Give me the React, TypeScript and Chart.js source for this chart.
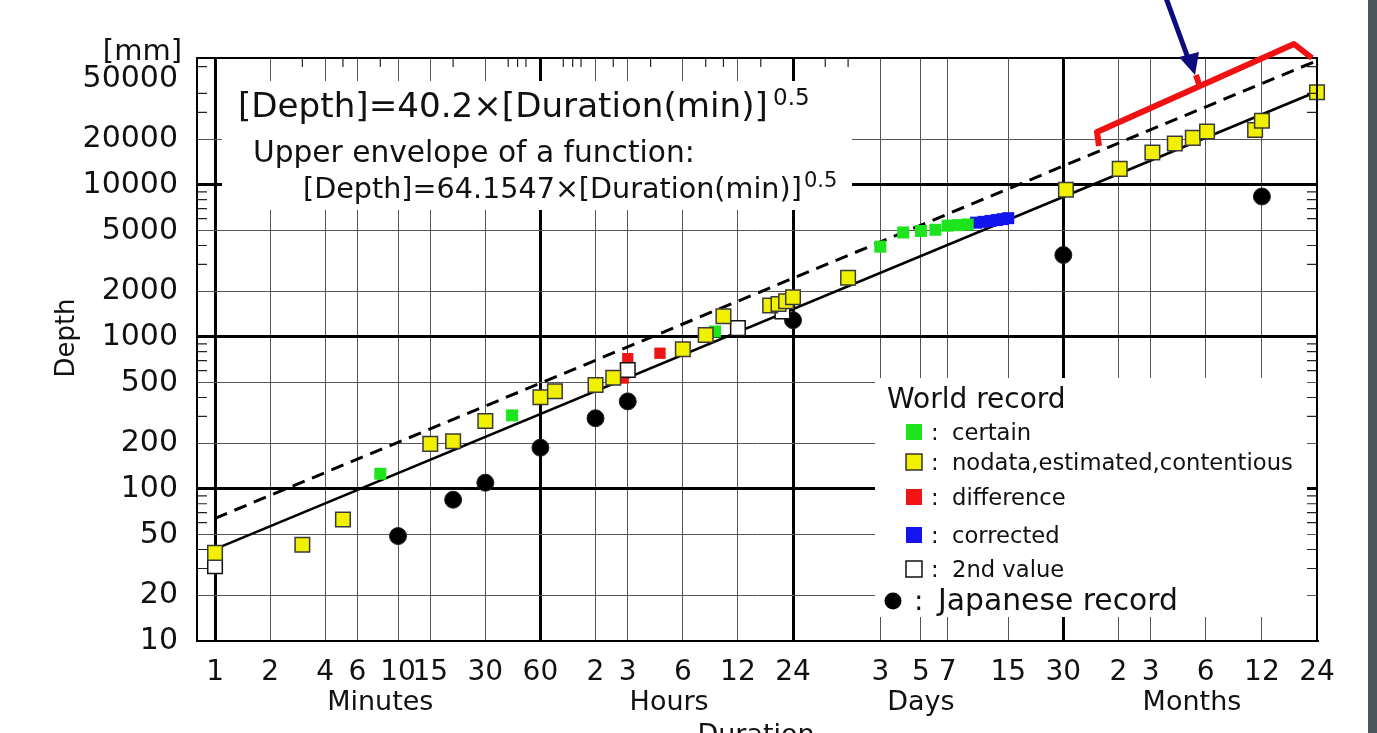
import React, { useEffect, useRef } from "react";
import { Chart, registerables } from "chart.js";

Chart.register(...registerables);

const FONT = "'DejaVu Sans', 'Liberation Sans', sans-serif";

// ---- axes (duration in minutes, depth in mm) ----
const xMin = 0.797;
const xMax = 1051200;
const yMin = 10;
const yMax = 68460;

const xTickValues = [1, 2, 4, 6, 10, 15, 30, 60, 120, 180, 360, 720, 1440, 4320, 7200, 10080, 21600, 43200, 86400, 129600, 259200, 525600, 1051200];
const xTickLabels = ["1", "2", "4", "6", "10", "15", "30", "60", "2", "3", "6", "12", "24", "3", "5", "7", "15", "30", "2", "3", "6", "12", "24"];
const xThickLines = [1, 60, 1440, 43200];
const xMinorTicks = [3, 5, 8, 20, 40, 45, 50, 80, 90, 100, 150, 240, 480, 600, 960, 2160, 2880];
const xUnitLabels = ["Minutes", "Hours", "Days", "Months"];
const xUnitAt = [8, 303, 7200, 218000];

const yTickValues = [10, 20, 50, 100, 200, 500, 1000, 2000, 5000, 10000, 20000, 50000];
const yTickLabels = ["10", "20", "50", "100", "200", "500", "1000", "2000", "5000", "10000", "20000", "50000"];
const yThickLines = [100, 1000, 10000];
const yNoGrid = [50000];

// ---- series ----
const yellowDur = [1, 3, 5, 15, 20, 30, 60, 72, 120, 150, 360, 480, 600, 1080, 1200, 1320, 1440, 2880, 44640, 87840, 132480, 175680, 220320, 263520, 482400, 525600, 1051200];
const yellowDepth = [38, 43, 63, 198, 206, 280, 401, 440, 483, 540, 830, 1030, 1370, 1610, 1650, 1720, 1825, 2450, 9300, 12767, 16369, 18738, 20412, 22454, 22990, 26461, 40768];

const certainDur = [8, 42, 540, 4320, 5760, 7200, 8640, 10080, 11520, 12960];
const certainDepth = [126, 305, 1087, 3930, 4869, 4979, 5075, 5400, 5450, 5500];

const diffDur = [170, 180, 270];
const diffDepth = [537, 720, 782];

const correctedDur = [14400, 15840, 17280, 18720, 20160, 21600];
const correctedDepth = [5650, 5720, 5800, 5880, 5960, 6050];

const secondDur = [1, 180, 720, 1260];
const secondDepth = [31, 607, 1144, 1470];

const japanDur = [10, 20, 30, 60, 120, 180, 1440, 43200, 525600];
const japanDepth = [49, 85, 110, 187, 292, 377, 1290, 3460, 8400];

// fitted lines: [Depth]=40.2x[Duration]^0.5 and envelope 64.1547x[Duration]^0.5
const lineDur = [1, 1051200];
const fitDepth = [40.2, 41216];
const envDepth = [64.15, 65776];

const YELLOW = "#f0f000";
const GREEN = "#1ee41e";
const RED = "#f01414";
const BLUE = "#1414ee";

const pts = (xs: number[], ys: number[]) => xs.map((x, i) => ({ x, y: ys[i] }));

function sizedFont(ctx: CanvasRenderingContext2D, text: string, width: number, base: number) {
  ctx.font = `${base}px ${FONT}`;
  const w = ctx.measureText(text).width;
  const s = (base * width) / w;
  ctx.font = `${s}px ${FONT}`;
  return s;
}

const overlay = {
  id: "overlay",
  beforeDatasetsDraw(chart: any) {
    const { ctx } = chart;
    ctx.save();
    ctx.fillStyle = "#ffffff";
    ctx.fillRect(222, 81, 630, 129);
    ctx.fillRect(875, 378, 432, 239);
    ctx.restore();
  },
  afterDatasetsDraw(chart: any) {
    const { ctx, chartArea: a, scales } = chart;
    const xs = scales.x;
    const ys = scales.y;
    ctx.save();
    // frame
    ctx.strokeStyle = "#000";
    ctx.lineWidth = 2;
    ctx.strokeRect(a.left, a.top, a.right - a.left, a.bottom - a.top);
    // minor ticks on left / right
    ctx.lineWidth = 1.2;
    ctx.strokeStyle = "#222";
    for (let k = 1; k <= 4; k++) {
      for (let d = 2; d <= 9; d++) {
        const v = d * Math.pow(10, k);
        if (v >= yMax || yTickValues.includes(v)) continue;
        const py = ys.getPixelForValue(v);
        ctx.beginPath();
        ctx.moveTo(a.left, py);
        ctx.lineTo(a.left + 10, py);
        ctx.moveTo(a.right - 10, py);
        ctx.lineTo(a.right, py);
        ctx.stroke();
      }
    }
    for (const v of xMinorTicks) {
      const px = xs.getPixelForValue(v);
      ctx.beginPath();
      ctx.moveTo(px, a.top);
      ctx.lineTo(px, a.top + 9);
      ctx.stroke();
    }

    ctx.fillStyle = "#111";
    ctx.textBaseline = "alphabetic";
    // [mm]
    ctx.textAlign = "right";
    ctx.font = `29px ${FONT}`;
    ctx.fillText("[mm]", 182, 60);
    // Depth
    ctx.save();
    ctx.translate(74, 338);
    ctx.rotate(-Math.PI / 2);
    ctx.textAlign = "center";
    ctx.font = `26px ${FONT}`;
    ctx.fillText("Depth", 0, 0);
    ctx.restore();
    // unit labels
    ctx.textAlign = "center";
    ctx.font = `27px ${FONT}`;
    xUnitLabels.forEach((t, i) => {
      ctx.fillText(t, xs.getPixelForValue(xUnitAt[i]), 710);
    });
    ctx.fillText("Duration", xs.getPixelForValue(904), 743);

    // formulas
    ctx.textAlign = "left";
    const l1 = "[Depth]=40.2\u00d7[Duration(min)]";
    sizedFont(ctx, l1, 530, 34);
    ctx.fillText(l1, 238, 117);
    ctx.font = `23px ${FONT}`;
    ctx.fillText("0.5", 773, 105);
    const l2 = "Upper envelope of a function:";
    sizedFont(ctx, l2, 442, 30);
    ctx.fillText(l2, 253, 162);
    const l3 = "[Depth]=64.1547\u00d7[Duration(min)]";
    sizedFont(ctx, l3, 499, 29);
    ctx.fillText(l3, 303, 198);
    ctx.font = `21px ${FONT}`;
    ctx.fillText("0.5", 804, 187);

    // legend
    ctx.font = `28px ${FONT}`;
    ctx.fillText("World record", 887, 408);
    const rows = [
      { t: "certain", fill: GREEN, stroke: "", b: 440 },
      { t: "nodata,estimated,contentious", fill: YELLOW, stroke: "#333", b: 470 },
      { t: "difference", fill: RED, stroke: "", b: 505 },
      { t: "corrected", fill: BLUE, stroke: "", b: 543 },
      { t: "2nd value", fill: "#fff", stroke: "#111", b: 577 },
    ];
    const itemSize = sizedFont(ctx, "nodata,estimated,contentious", 341, 22);
    rows.forEach((r) => {
      const cy = r.b - 8;
      ctx.fillStyle = r.fill;
      ctx.fillRect(906, cy - 8, 16, 16);
      if (r.stroke) {
        ctx.strokeStyle = r.stroke;
        ctx.lineWidth = 1.5;
        ctx.strokeRect(906, cy - 8, 16, 16);
      }
      ctx.fillStyle = "#111";
      ctx.font = `${itemSize}px ${FONT}`;
      ctx.fillText(":", 931, r.b);
      ctx.fillText(r.t, 952, r.b);
    });
    ctx.fillStyle = "#000";
    ctx.beginPath();
    ctx.arc(893, 601, 8.5, 0, Math.PI * 2);
    ctx.fill();
    ctx.fillStyle = "#111";
    ctx.font = `28px ${FONT}`;
    ctx.fillText(":", 914, 610);
    sizedFont(ctx, "Japanese record", 240, 28);
    ctx.fillText("Japanese record", 938, 610);
    ctx.restore();
  },
  afterDraw(chart: any) {
    const { ctx } = chart;
    ctx.save();
    // red bracket
    ctx.strokeStyle = "#f01212";
    ctx.lineWidth = 6;
    ctx.lineJoin = "round";
    ctx.lineCap = "butt";
    ctx.beginPath();
    ctx.moveTo(1099, 146);
    ctx.lineTo(1097, 132);
    ctx.lineTo(1294, 44);
    ctx.lineTo(1312, 58);
    ctx.stroke();
    ctx.beginPath();
    ctx.moveTo(1200, 87);
    ctx.lineTo(1196, 75);
    ctx.stroke();
    // blue arrow
    ctx.strokeStyle = "#0c0c7c";
    ctx.fillStyle = "#0c0c7c";
    ctx.lineWidth = 5;
    ctx.beginPath();
    ctx.moveTo(1166, -2);
    ctx.lineTo(1188, 58);
    ctx.stroke();
    ctx.beginPath();
    ctx.moveTo(1179, 57);
    ctx.lineTo(1199, 52);
    ctx.lineTo(1195, 75);
    ctx.closePath();
    ctx.fill();
    // right dark strip
    ctx.fillStyle = "#4b565c";
    ctx.fillRect(1368, 0, 9, 733);
    ctx.restore();
  },
};

export default function App() {
  const ref = useRef<HTMLCanvasElement>(null);
  useEffect(() => {
    const canvas = ref.current;
    if (!canvas) return;
    const chart = new Chart(canvas, {
      type: "scatter",
      data: {
        datasets: [
          { label: "nodata,estimated,contentious", data: pts(yellowDur, yellowDepth), pointStyle: "rect", pointRadius: 10.3, backgroundColor: YELLOW, borderColor: "#3a3a3a", borderWidth: 1.5, order: 0, clip: false } as any,
          { label: "2nd value", data: pts(secondDur, secondDepth), pointStyle: "rect", pointRadius: 10.3, backgroundColor: "#ffffff", borderColor: "#111", borderWidth: 1.5, order: 1 },
          { label: "difference", data: pts(diffDur, diffDepth), pointStyle: "rect", pointRadius: 8, backgroundColor: RED, borderColor: RED, borderWidth: 0, order: 2 },
          { label: "certain", data: pts(certainDur, certainDepth), pointStyle: "rect", pointRadius: 8.5, backgroundColor: GREEN, borderColor: GREEN, borderWidth: 0, order: 3 },
          { label: "corrected", data: pts(correctedDur, correctedDepth), pointStyle: "rect", pointRadius: 8.5, backgroundColor: BLUE, borderColor: BLUE, borderWidth: 0, order: 4 },
          { label: "Japanese record", data: pts(japanDur, japanDepth), pointStyle: "circle", pointRadius: 8.5, backgroundColor: "#000", borderColor: "#222", borderWidth: 1, order: 5 },
          { label: "fit", data: pts(lineDur, fitDepth), showLine: true, pointRadius: 0, borderColor: "#000", borderWidth: 2.6, order: 6 },
          { label: "envelope", data: pts(lineDur, envDepth), showLine: true, pointRadius: 0, borderColor: "#000", borderWidth: 3, borderDash: [13, 8], order: 7 },
        ],
      },
      options: {
        animation: false,
        responsive: false,
        devicePixelRatio: 1,
        events: [],
        layout: { padding: { left: 0, top: 58, right: 60, bottom: 0 } },
        plugins: { legend: { display: false }, tooltip: { enabled: false } },
        scales: {
          x: {
            type: "logarithmic",
            min: xMin,
            max: xMax,
            afterBuildTicks: (s: any) => {
              s.ticks = xTickValues.map((v) => ({ value: v }));
            },
            afterFit: (s: any) => {
              s.height = 92;
            },
            ticks: {
              autoSkip: false,
              maxRotation: 0,
              minRotation: 0,
              padding: 15,
              color: "#111",
              font: { family: FONT, size: 28 },
              callback: (_v: any, i: number) => xTickLabels[i],
            },
            grid: {
              drawTicks: false,
              color: (c: any) => (c.tick && xThickLines.includes(c.tick.value) ? "#000" : "#555"),
              lineWidth: (c: any) => (c.tick && xThickLines.includes(c.tick.value) ? 3 : 1),
            },
            border: { display: true, color: "#000", width: 2 },
          },
          y: {
            type: "logarithmic",
            min: yMin,
            max: yMax,
            afterBuildTicks: (s: any) => {
              s.ticks = yTickValues.map((v) => ({ value: v }));
            },
            afterFit: (s: any) => {
              s.width = 197;
            },
            ticks: {
              autoSkip: false,
              padding: 19,
              color: "#111",
              font: { family: FONT, size: 30 },
              callback: (_v: any, i: number) => yTickLabels[i],
            },
            grid: {
              drawTicks: false,
              color: (c: any) =>
                c.tick && yNoGrid.includes(c.tick.value) ? "rgba(0,0,0,0)" : c.tick && yThickLines.includes(c.tick.value) ? "#000" : "#555",
              lineWidth: (c: any) => (c.tick && yThickLines.includes(c.tick.value) ? 3 : 1),
            },
            border: { display: true, color: "#000", width: 2 },
          },
        },
      },
      plugins: [overlay],
    } as any);
    return () => chart.destroy();
  }, []);
  return (
    <div style={{ position: "fixed", left: 0, top: 0, width: 1377, height: 733, background: "#fff", overflow: "hidden" }}>
      <canvas ref={ref} width={1377} height={733} style={{ display: "block" }} />
    </div>
  );
}
